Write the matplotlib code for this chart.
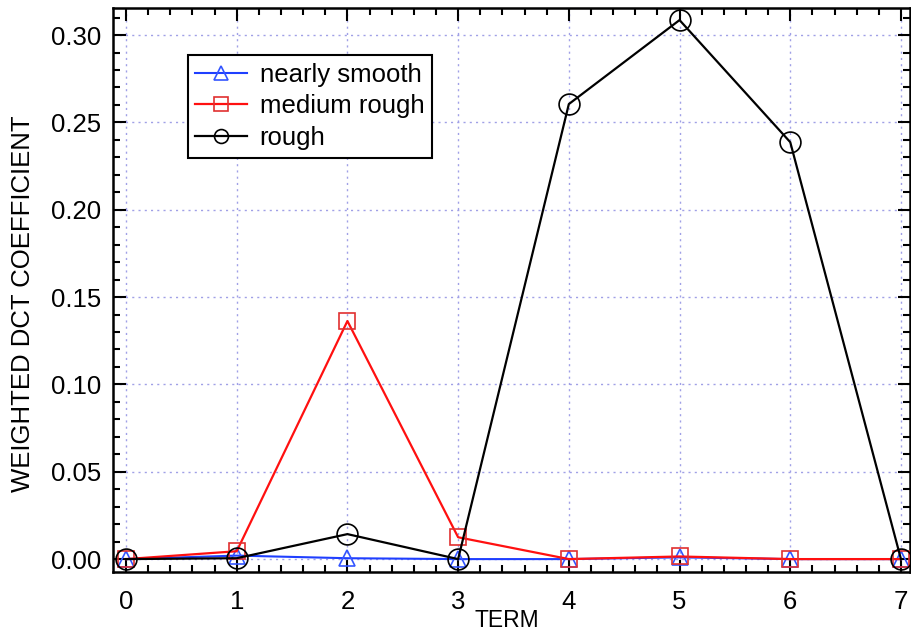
import matplotlib
matplotlib.use("Agg")
import matplotlib.pyplot as plt
from matplotlib.ticker import MultipleLocator, AutoMinorLocator

plt.rcParams['font.family'] = ['Liberation Sans', 'DejaVu Sans']

terms = [0, 1, 2, 3, 4, 5, 6, 7]
nearly_smooth = [0.0, 0.002, 0.0005, 0.0, 0.0, 0.001, 0.0, 0.0]
medium_rough = [0.0, 0.0045, 0.1363, 0.0125, 0.0, 0.0015, 0.0, 0.0]
rough = [0.0, 0.0005, 0.0143, 0.0, 0.2605, 0.3086, 0.2387, 0.0]

x_ticks = [0, 1, 2, 3, 4, 5, 6, 7]
y_ticks = [0.00, 0.05, 0.10, 0.15, 0.20, 0.25, 0.30]
y_tick_labels = ["0.00", "0.05", "0.10", "0.15", "0.20", "0.25", "0.30"]

fig = plt.figure(figsize=(9.12, 6.36), dpi=100)
ax = fig.add_axes([0.1236, 0.1006, 0.874, 0.8868])

ax.plot(terms, nearly_smooth, color='#1f3fff', lw=1.5, marker='^', ms=12,
        mfc='none', mec='#3355ff', mew=1.2, label='nearly smooth', clip_on=False, zorder=3)
ax.plot(terms, medium_rough, color='#ff1010', lw=1.6, marker='s', ms=12,
        mfc='none', mec='#e03030', mew=1.2, label='medium rough', clip_on=False, zorder=4)
ax.plot(terms, rough, color='black', lw=1.6, marker='o', ms=15,
        mfc='none', mec='black', mew=1.2, label='rough', clip_on=False, zorder=5)

ax.set_xlim(-0.12, 7.08)
ax.set_ylim(-0.0074, 0.3155)
ax.set_xticks(x_ticks)
ax.set_yticks(y_ticks)
ax.set_yticklabels(y_tick_labels)
ax.xaxis.set_minor_locator(AutoMinorLocator(5))
ax.yaxis.set_minor_locator(AutoMinorLocator(5))

ax.tick_params(which='both', direction='in', top=True, right=True, width=1.5, labelsize=18.5)
ax.tick_params(which='major', length=9)
ax.tick_params(which='minor', length=5)
ax.tick_params(axis='x', which='major', pad=13)
ax.tick_params(axis='y', which='major', pad=8)

for sp in ax.spines.values():
    sp.set_linewidth(1.8)

ax.grid(True, which='major', linestyle=(0, (1.5, 3)), color='#a0a0e6', lw=1.0)
ax.set_axisbelow(True)

ax.set_xlabel('TERM', fontsize=16.5)
ax.xaxis.set_label_coords(0.495, -0.066)
ax.set_ylabel('WEIGHTED DCT COEFFICIENT', fontsize=18.5)
ax.yaxis.set_label_coords(-0.098, 0.475)

leg = ax.legend(loc='upper left', bbox_to_anchor=(0.094, 0.917), fontsize=18.5,
                frameon=True, fancybox=False, edgecolor='black', framealpha=1,
                borderpad=0.3, labelspacing=0.3, handlelength=2.0, handletextpad=0.5,
                borderaxespad=0)
leg.get_frame().set_linewidth(1.5)
for h in leg.legend_handles:
    h.set_markersize(10)

fig.savefig('out.png', dpi=100)
